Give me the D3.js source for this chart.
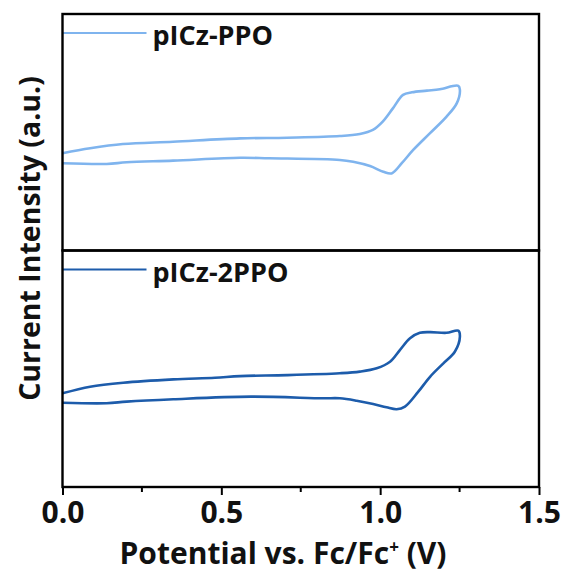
<!DOCTYPE html>
<html>
<head>
<meta charset="utf-8">
<script src="https://cdn.jsdelivr.net/npm/d3@7"></script>
<style>
  body { margin: 0; background: #fff; }
  svg { display: block; }
  text { font-family: "Open Sans", Lato, sans-serif; font-weight: bold; fill: #111; }
</style>
</head>
<body>
<div id="chart"></div>
<script>
// cyclic voltammetry, potential (V) and current (a.u.)
const ppoV = [0.0, 0.087, 0.19, 0.348, 0.559, 0.707, 0.873, 0.936, 0.977, 1.008, 1.04, 1.072, 1.1, 1.147, 1.188, 1.246,
              1.251, 1.241, 1.209, 1.157, 1.104, 1.068, 1.036, 1.01, 0.968, 0.915, 0.873, 0.65, 0.559, 0.348, 0.202, 0.139, 0.0];
const ppoI = [4.11, 4.32, 4.50, 4.60, 4.74, 4.77, 4.84, 4.93, 5.10, 5.45, 6.01, 6.58, 6.69, 6.76, 6.82, 6.96,
              6.79, 6.22, 5.66, 4.96, 4.25, 3.69, 3.26, 3.33, 3.57, 3.75, 3.83, 3.90, 3.92, 3.80, 3.73, 3.66, 3.69];

const ppo2V = [0.0, 0.087, 0.191, 0.349, 0.48, 0.559, 0.707, 0.873, 0.936, 0.989, 1.031, 1.062, 1.094, 1.125, 1.157, 1.209, 1.246,
               1.251, 1.235, 1.199, 1.157, 1.12, 1.078, 1.052, 1.02, 0.978, 0.926, 0.873, 0.82, 0.593, 0.349, 0.202, 0.139, 0.0];
const ppo2I = [3.96, 4.24, 4.41, 4.55, 4.62, 4.69, 4.73, 4.81, 4.88, 5.02, 5.30, 5.79, 6.29, 6.52, 6.55, 6.52, 6.61,
               6.36, 5.72, 5.23, 4.66, 4.03, 3.40, 3.29, 3.37, 3.51, 3.65, 3.75, 3.75, 3.82, 3.71, 3.61, 3.54, 3.56];

const xTicks = [0, 0.5, 1.0, 1.5];
const xMinorTicks = [0.25, 0.75, 1.25];

const panels = [
  { name: "pICz-PPO", v: ppoV, i: ppoI, color: "#7fb4ee" },
  { name: "pICz-2PPO", v: ppo2V, i: ppo2I, color: "#1d5cab" }
];

const width = 562, height = 572;
const mLeft = 62.5, mRight = 539, mTop = 14, mBottom = 487;
const panelH = (mBottom - mTop) / panels.length;

const svg = d3.select("#chart").append("svg")
    .attr("width", width)
    .attr("height", height);

const x = d3.scaleLinear().domain([0, 1.5]).range([mLeft, mRight]);

panels.forEach(function(p, k) {
    const y0 = mTop + k * panelH;
    const y = d3.scaleLinear().domain([0, 10]).range([y0 + panelH, y0]);
    const line = d3.line()
        .x((d, j) => x(p.v[j]))
        .y((d, j) => y(p.i[j]))
        .curve(d3.curveCatmullRom.alpha(0.5));

    svg.append("path")
        .datum(p.v)
        .attr("d", line)
        .attr("fill", "none")
        .attr("stroke", p.color)
        .attr("stroke-width", 2.6);

    // legend
    svg.append("line")
        .attr("x1", mLeft).attr("x2", mLeft + 84)
        .attr("y1", y0 + 19).attr("y2", y0 + 19)
        .attr("stroke", p.color)
        .attr("stroke-width", 2.2);
    svg.append("text")
        .attr("x", mLeft + 90)
        .attr("y", y0 + 31)
        .style("font-size", "27px")
        .text(p.name);

    svg.append("rect")
        .attr("x", mLeft).attr("y", y0)
        .attr("width", mRight - mLeft).attr("height", panelH)
        .attr("fill", "none")
        .attr("stroke", "#000")
        .attr("stroke-width", 2.4);
});

// bottom axis
const xAxis = d3.axisBottom(x)
    .tickValues(xTicks)
    .tickFormat(d3.format(".1f"))
    .tickSize(8)
    .tickPadding(7);

const gx = svg.append("g")
    .attr("transform", `translate(0,${mBottom})`)
    .call(xAxis);
gx.select(".domain").remove();
gx.selectAll(".tick line").attr("stroke", "#000").attr("stroke-width", 2);
gx.selectAll(".tick text")
    .style("font-size", "30px")
    .style("font-family", "'Open Sans', sans-serif")
    .style("font-weight", "bold")
    .attr("fill", "#111");

svg.append("g")
    .selectAll("line")
    .data(xMinorTicks)
    .join("line")
    .attr("x1", d => x(d)).attr("x2", d => x(d))
    .attr("y1", mBottom).attr("y2", mBottom + 5)
    .attr("stroke", "#000")
    .attr("stroke-width", 2);

const xt = svg.append("text")
    .attr("x", 283)
    .attr("y", 564)
    .attr("text-anchor", "middle")
    .style("font-size", "30px");
xt.append("tspan").text("Potential vs. Fc/Fc");
xt.append("tspan").attr("dy", -11).style("font-size", "17px").text("+");
xt.append("tspan").attr("dy", 11).text(" (V)");

svg.append("text")
    .attr("transform", `translate(40,${(mTop + mBottom) / 2 - 12}) rotate(-90)`)
    .attr("text-anchor", "middle")
    .style("font-size", "28.5px")
    .text("Current Intensity (a.u.)");
</script>
</body>
</html>
